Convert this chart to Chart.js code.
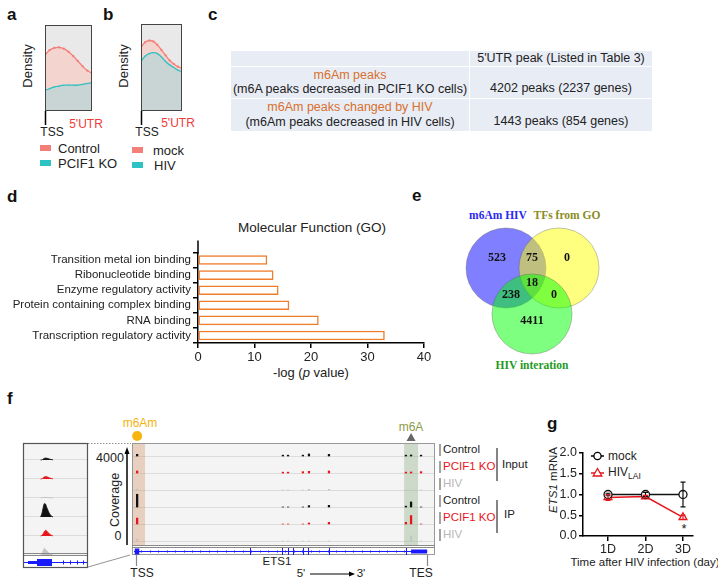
<!DOCTYPE html>
<html>
<head>
<meta charset="utf-8">
<script src="https://cdn.jsdelivr.net/npm/chart.js@4.4.1/dist/chart.umd.min.js"></script>
<style>
  body { margin: 0; width: 718px; height: 579px; position: relative; background: #fff; overflow: hidden;
         font-family: 'Liberation Sans', Arial, sans-serif; color: #222; }
  canvas { position: absolute; }
  .t { position: absolute; white-space: nowrap; line-height: 1; }
  .c { transform: translate(-50%, -50%); }
  .l { transform: translate(0, -50%); }
  .pl { position: absolute; font-weight: bold; font-size: 17px; color: #111; line-height: 1; }
  .rot { transform: translate(-50%, -50%) rotate(-90deg); }
  table.pk { position: absolute; left: 230px; top: 50px; width: 423px; border-collapse: collapse; font-size: 12.5px; }
  table.pk td { background: #e8ecf5; border: 1.5px solid #fff; text-align: center; padding: 0; line-height: 14.5px; }
  .venn { font-family: 'Liberation Serif', 'DejaVu Serif', serif; font-weight: bold; font-size: 11.5px; }
  svg { position: absolute; left: 0; top: 0; }
</style>
</head>
<body>

<!-- panel letters -->
<div class="pl" style="left:7px;top:6px">a</div>
<div class="pl" style="left:103px;top:6px">b</div>
<div class="pl" style="left:208px;top:6px">c</div>
<div class="pl" style="left:7px;top:188px">d</div>
<div class="pl" style="left:412px;top:187px">e</div>
<div class="pl" style="left:7px;top:390px">f</div>
<div class="pl" style="left:547px;top:415px">g</div>

<!-- a / b text -->
<div class="t rot" style="left:27px;top:66px;font-size:13px">Density</div>
<div class="t rot" style="left:123px;top:66px;font-size:13px">Density</div>
<div class="t c" style="left:52px;top:132px;font-size:12px">TSS</div>
<div class="t c" style="left:86px;top:124px;font-size:12px;color:#f03a3a">5'UTR</div>
<div class="t c" style="left:147px;top:132px;font-size:12px">TSS</div>
<div class="t c" style="left:178px;top:123px;font-size:12px;color:#f03a3a">5'UTR</div>
<div style="position:absolute;left:40px;top:145px;width:11px;height:6px;background:#f47f78"></div>
<div class="t l" style="left:58px;top:148px;font-size:13px">Control</div>
<div style="position:absolute;left:40px;top:160px;width:11px;height:6px;background:#2ec2c5"></div>
<div class="t l" style="left:58px;top:163px;font-size:13px">PCIF1 KO</div>
<div style="position:absolute;left:132px;top:147px;width:11px;height:6px;background:#f47f78"></div>
<div class="t l" style="left:153px;top:150px;font-size:13px">mock</div>
<div style="position:absolute;left:132px;top:162px;width:11px;height:6px;background:#2ec2c5"></div>
<div class="t l" style="left:154px;top:165px;font-size:13px">HIV</div>

<!-- c table -->
<table class="pk">
  <tr style="height:15px"><td style="width:238px"></td><td>5'UTR peak (Listed in Table 3)</td></tr>
  <tr style="height:32px"><td><span style="color:#d8702e">m6Am peaks</span><br>(m6A peaks decreased in PCIF1 KO cells)</td>
      <td style="vertical-align:bottom;padding-bottom:2px">4202 peaks (2237 genes)</td></tr>
  <tr style="height:33px"><td><span style="color:#d8702e">m6Am peaks changed by HIV</span><br>(m6Am peaks decreased in HIV cells)</td>
      <td style="vertical-align:bottom;padding-bottom:2px">1443 peaks (854 genes)</td></tr>
</table>

<!-- d text -->
<div class="t c" style="left:312px;top:228px;font-size:13.5px">Molecular Function (GO)</div>
<div class="t c" style="left:311px;top:372px;font-size:13px">-log (<i>p</i> value)</div>

<!-- e text -->
<div class="t c venn" style="left:498px;top:216px;color:#2a2af2">m6Am HIV</div>
<div class="t c venn" style="left:567px;top:216px;color:#8c8c1e">TFs from GO</div>
<div class="t c venn" style="left:532px;top:366px;color:#1f9a1f">HIV interation</div>

<!-- f text -->
<div class="t c" style="left:140px;top:423px;font-size:12px;color:#f2b311">m6Am</div>
<div class="t c" style="left:411px;top:427px;font-size:12px;color:#8a9a46">m6A</div>
<div class="t c" style="left:110px;top:458px;font-size:12.5px">4000</div>
<div class="t c" style="left:118px;top:536px;font-size:12.5px">0</div>
<div class="t rot" style="left:115px;top:500px;font-size:12.5px">Coverage</div>
<div class="t l" style="left:443px;top:450px;font-size:11.5px">Control</div>
<div class="t l" style="left:443px;top:467px;font-size:11.5px;color:#e8141b">PCIF1 KO</div>
<div class="t l" style="left:443px;top:484px;font-size:11.5px;color:#b8b8b8">HIV</div>
<div class="t l" style="left:443px;top:501px;font-size:11.5px">Control</div>
<div class="t l" style="left:443px;top:518px;font-size:11.5px;color:#e8141b">PCIF1 KO</div>
<div class="t l" style="left:443px;top:535px;font-size:11.5px;color:#b8b8b8">HIV</div>
<div class="t l" style="left:502px;top:465px;font-size:11.5px">Input</div>
<div class="t l" style="left:504px;top:515px;font-size:11.5px">IP</div>
<div class="t c" style="left:142px;top:573px;font-size:12px">TSS</div>
<div class="t c" style="left:277px;top:562px;font-size:11.5px">ETS1</div>
<div class="t c" style="left:301px;top:574px;font-size:11.5px">5'</div>
<div class="t c" style="left:361px;top:574px;font-size:11.5px">3'</div>
<div class="t c" style="left:421px;top:573px;font-size:12px">TES</div>

<!-- g text -->
<div class="t rot" style="left:554px;top:480px;font-size:11.5px"><i>ETS1</i> mRNA</div>
<div class="t l" style="left:608px;top:456px;font-size:12px">mock</div>
<div class="t l" style="left:608px;top:473px;font-size:12px">HIV<sub style="font-size:8.5px">LAI</sub></div>
<div class="t c" style="left:684px;top:528px;font-size:13px">*</div>
<div class="t c" style="left:645px;top:563px;font-size:11.5px">Time after HIV infection (day)</div>

<svg width="718" height="579">
  <!-- coverage arrow -->
  <line x1="127" y1="545" x2="127" y2="453" stroke="#000" stroke-width="1.5"/>
  <polygon points="127,447 124.5,454 129.5,454" fill="#000"/>
  <!-- inset connectors -->
  <line x1="88" y1="443.5" x2="131" y2="443.5" stroke="#777" stroke-width="0.8" stroke-dasharray="1.5,1.5"/>
  <line x1="88" y1="567" x2="130" y2="555" stroke="#777" stroke-width="0.8"/>
  <!-- TSS / TES lines -->
  <line x1="136.5" y1="554" x2="136.5" y2="566" stroke="#888" stroke-width="1.2"/>
  <line x1="427.5" y1="554" x2="427.5" y2="566" stroke="#888" stroke-width="1.2"/>
  <!-- 5' -> 3' -->
  <line x1="310" y1="574" x2="350" y2="574" stroke="#000" stroke-width="1"/>
  <polygon points="355,574 349,571.5 349,576.5" fill="#000"/>
  <!-- label bars -->
  <g stroke="#666" stroke-width="1.2">
    <line x1="440" y1="444" x2="440" y2="456"/>
    <line x1="440" y1="461" x2="440" y2="473"/>
    <line x1="440" y1="478" x2="440" y2="490"/>
    <line x1="440" y1="495" x2="440" y2="507"/>
    <line x1="440" y1="512" x2="440" y2="524"/>
    <line x1="440" y1="529" x2="440" y2="541"/>
  </g>
  <g stroke="#333" stroke-width="1.2">
    <line x1="497" y1="448" x2="497" y2="481"/>
    <line x1="497" y1="500" x2="497" y2="533"/>
  </g>
  <!-- g legend icons -->
  <line x1="591" y1="456" x2="604" y2="456" stroke="#000" stroke-width="1.5"/>
  <circle cx="597.5" cy="456" r="3.6" fill="#fff" stroke="#000" stroke-width="1.3"/>
  <line x1="591" y1="473" x2="604" y2="473" stroke="#e8141b" stroke-width="1.5"/>
  <polygon points="597.5,468.5 601.8,476 593.2,476" fill="#fff" stroke="#e8141b" stroke-width="1.3"/>
</svg>

<script>
// ---------- data ----------
// a, b: metagene density along 5'UTR (TSS -> end)
const densPos = [0, 1, 2, 3, 4, 5, 6, 7, 8, 9, 10];
const controlDens = [0.65, 0.71, 0.735, 0.74, 0.725, 0.69, 0.64, 0.58, 0.52, 0.47, 0.44];
const pcif1Dens = [0.24, 0.26, 0.28, 0.29, 0.30, 0.30, 0.30, 0.30, 0.31, 0.32, 0.33];
const mockDens = [0.73, 0.79, 0.81, 0.80, 0.76, 0.70, 0.64, 0.58, 0.54, 0.51, 0.49];
const hivDens = [0.57, 0.63, 0.66, 0.67, 0.66, 0.62, 0.57, 0.53, 0.50, 0.47, 0.45];

// d: GO molecular function
const goTerms = ['Transition metal ion binding', 'Ribonucleotide binding', 'Enzyme regulatory activity',
                 'Protein containing complex binding', 'RNA binding', 'Transcription regulatory activity'];
const goScore = [12.2, 13.3, 14.2, 16.1, 21.3, 33.0];
const goTicks = [0, 10, 20, 30, 40];

// e: venn counts (523 only m6Am, 75 m6Am+TF, 0 TF only, 18 all, 238 m6Am+HIV, 0 TF+HIV, 4411 HIV only)
const vennSets = ['m6Am HIV', 'TFs from GO', 'HIV interation'];
const vennCounts = [523, 75, 0, 18, 238, 0, 4411];

// f: coverage tracks for ETS1
const trackNames = ['Control', 'PCIF1 KO', 'HIV', 'Control', 'PCIF1 KO', 'HIV'];
const peakSites = [1.7, 49.8, 51.5, 56.4, 58.4, 65.0, 90.4, 92.1, 95.4];
const peakCov = [
  [0.10, 0.05, 0.05, 0.05, 0.12, 0.10, 0.05, 0.06, 0.05],
  [0.12, 0.05, 0.05, 0.08, 0.10, 0.12, 0.05, 0.06, 0.08],
  [0.05, 0.00, 0.00, 0.00, 0.04, 0.04, 0.00, 0.00, 0.00],
  [0.75, 0.00, 0.00, 0.00, 0.08, 0.10, 0.05, 0.30, 0.00],
  [0.35, 0.00, 0.00, 0.00, 0.06, 0.10, 0.10, 0.50, 0.00],
  [0.12, 0.00, 0.00, 0.00, 0.00, 0.00, 0.00, 0.30, 0.00]
];
const geneExons = [38.9, 49.5, 51.5, 53.1, 56.4, 58.1, 65.0, 90.4];
const tssBand = [0, 4.3];
const m6aBand = [89.8, 94.4];
// inset: zoom on TSS
const insetBins = [14, 15, 16, 17, 18, 19, 20, 21, 22, 23, 24];
const insetCov = [
  [0, 0, 0.04, 0.08, 0.10, 0.09, 0.07, 0.05, 0.03, 0.02, 0],
  [0, 0, 0.05, 0.10, 0.13, 0.12, 0.09, 0.06, 0.04, 0.02, 0],
  [0, 0, 0.02, 0.03, 0.03, 0.03, 0.02, 0.01, 0, 0, 0],
  [0, 0.15, 0.45, 0.70, 0.68, 0.50, 0.35, 0.20, 0.10, 0.03, 0],
  [0, 0.02, 0.10, 0.22, 0.30, 0.26, 0.18, 0.12, 0.07, 0.03, 0],
  [0, 0.05, 0.20, 0.35, 0.30, 0.22, 0.15, 0.08, 0.04, 0.02, 0]
];

// g: ETS1 mRNA
const days = ['1D', '2D', '3D'];
const mockVal = [1.0, 1.0, 1.0];
const mockErr = [0.03, 0.05, 0.30];
const hivVal = [0.93, 0.95, 0.45];
const hivErr = [0.07, 0.03, 0.05];

// ---------- setup ----------
Chart.defaults.font.family = "'Liberation Sans', Arial, sans-serif";
Chart.defaults.color = '#222';
Chart.defaults.animation = false;
Chart.defaults.plugins.legend.display = false;
Chart.defaults.plugins.tooltip.enabled = false;

function canvasAt(left, top, w, h) {
  const c = document.createElement('canvas');
  c.width = w; c.height = h;
  c.style.left = left + 'px'; c.style.top = top + 'px';
  document.body.appendChild(c);
  return c;
}

const trackColors = ['#111', '#e8141b', '#c4c4c4', '#111', '#e8141b', '#c4c4c4'];

// ---------- a, b ----------
const densFrame = {
  id: 'densFrame',
  beforeDraw(c) {
    const a = c.chartArea, x = c.ctx;
    x.fillStyle = '#e9e9e9';
    x.fillRect(a.left, a.top, a.width, a.height);
  },
  afterDraw(c) {
    const a = c.chartArea, x = c.ctx;
    x.save();
    x.strokeStyle = '#444'; x.lineWidth = 1;
    x.strokeRect(a.left + 0.5, a.top + 0.5, a.width - 1, a.height - 1);
    x.strokeStyle = '#000'; x.lineWidth = 1.5;
    x.beginPath(); x.moveTo(a.left + 0.5, a.bottom); x.lineTo(a.left + 0.5, a.bottom + 14); x.stroke();
    x.restore();
  }
};

function densityChart(cv, pad, upper, lower) {
  return new Chart(cv, {
    type: 'line',
    data: {
      labels: densPos,
      datasets: [
        { data: lower.map((v, i) => ({ x: densPos[i], y: v })), borderColor: '#33c1c2', borderWidth: 1.3,
          backgroundColor: '#c8d5d4', fill: 'origin', tension: 0.4, pointRadius: 0.8, pointStyle: 'rect',
          pointBackgroundColor: '#33c1c2', pointBorderWidth: 0 },
        { data: upper.map((v, i) => ({ x: densPos[i], y: v })), borderColor: '#f47f78', borderWidth: 1.3,
          backgroundColor: '#f3d4cf', fill: 'origin', tension: 0.4, pointRadius: 1.4, pointStyle: 'rect',
          pointBackgroundColor: '#f47f78', pointBorderWidth: 0 }
      ]
    },
    options: {
      responsive: false, devicePixelRatio: 1,
      layout: { padding: pad },
      scales: {
        x: { type: 'linear', display: false, min: 0, max: 10 },
        y: { display: false, min: 0, max: 1 }
      }
    },
    plugins: [densFrame]
  });
}
densityChart(canvasAt(40, 20, 60, 112), { left: 5, top: 5, right: 8, bottom: 21 }, controlDens, pcif1Dens);
densityChart(canvasAt(136, 19, 60, 112), { left: 5, top: 5, right: 14, bottom: 20 }, mockDens, hivDens);

// ---------- d ----------
const goAxisTop = {
  id: 'goAxisTop',
  afterDraw(c) {
    const a = c.chartArea, x = c.ctx;
    x.save(); x.strokeStyle = '#000'; x.lineWidth = 1.5;
    x.beginPath(); x.moveTo(a.left, a.top - 12); x.lineTo(a.left, a.top + 1); x.stroke();
    x.restore();
  }
};
new Chart(canvasAt(0, 215, 435, 156), {
  type: 'bar',
  data: {
    labels: goTerms,
    datasets: [{ data: goScore, backgroundColor: '#fff', borderColor: '#ef7d2e', borderWidth: 1.5,
                 borderSkipped: false, barThickness: 9 }]
  },
  options: {
    indexAxis: 'y', responsive: false, devicePixelRatio: 1,
    layout: { padding: { top: 37.5, right: 11, left: 0, bottom: 0 } },
    scales: {
      y: {
        afterFit(s) { s.width = 198; },
        grid: { drawOnChartArea: false, tickLength: 5, color: '#000', lineWidth: 1.5 },
        border: { color: '#000', width: 1.5 },
        ticks: { font: { size: 11.5 }, color: '#222', padding: 2, autoSkip: false }
      },
      x: {
        min: 0, max: 40,
        afterFit(s) { s.height = 28; },
        afterBuildTicks(s) { s.ticks = goTicks.map(v => ({ value: v })); },
        grid: { drawOnChartArea: false, tickLength: 5, color: '#000', lineWidth: 1.5 },
        border: { color: '#000', width: 1.5 },
        ticks: { font: { size: 13 }, color: '#222', padding: 2 }
      }
    }
  },
  plugins: [goAxisTop]
});

// ---------- e ----------
const vennCentres = [{ x: 0, y: 0 }, { x: 1.325, y: 0 }, { x: 0.65, y: -1.15 }];
const vennFills = ['rgba(0,0,255,0.5)', 'rgba(255,255,0,0.5)', 'rgba(0,255,0,0.5)'];
const vennCountPos = [[-0.225, 0.25], [0.65, 0.25], [1.525, 0.25], [0.65, -0.375],
                      [0.125, -0.675], [1.2, -0.675], [0.65, -1.325]];
const unitRadius = ctx => ctx.chart.scales.x.getPixelForValue(1) - ctx.chart.scales.x.getPixelForValue(0);
const vennText = {
  id: 'vennText',
  afterDatasetsDraw(c) {
    const x = c.ctx, sx = c.scales.x, sy = c.scales.y;
    x.save();
    x.font = "bold 12px 'Liberation Serif', 'DejaVu Serif', serif";
    x.fillStyle = '#111'; x.textAlign = 'center'; x.textBaseline = 'middle';
    vennCounts.forEach((n, i) => {
      x.fillText(String(n), sx.getPixelForValue(vennCountPos[i][0]), sy.getPixelForValue(vennCountPos[i][1]));
    });
    x.restore();
  }
};
new Chart(canvasAt(460, 225, 150, 135), {
  type: 'scatter',
  data: {
    datasets: vennSets.map((name, i) => ({
      label: name, data: [vennCentres[i]], order: 3 - i,
      backgroundColor: vennFills[i], borderColor: 'rgba(90,90,90,0.45)', borderWidth: 0.8,
      pointRadius: unitRadius
    }))
  },
  options: {
    responsive: false, devicePixelRatio: 1,
    layout: { padding: 0 },
    scales: {
      x: { type: 'linear', display: false, min: -1.15, max: 2.6 },
      y: { type: 'linear', display: false, min: -2.3, max: 1.075 }
    }
  },
  plugins: [vennText]
});

// ---------- f (main tracks) ----------
function drawBand(c, band, color) {
  const a = c.chartArea, sx = c.scales.x, x = c.ctx;
  const l = sx.getPixelForValue(band[0]), r = sx.getPixelForValue(band[1]);
  x.fillStyle = color;
  x.fillRect(l, a.top, r - l, a.height);
}
const trackDeco = {
  id: 'trackDeco',
  beforeDraw(c) {
    const a = c.chartArea, x = c.ctx;
    x.fillStyle = '#f4f4f4';
    x.fillRect(a.left, a.top, a.width, a.height);
  },
  beforeDatasetsDraw(c) {
    drawBand(c, tssBand, 'rgba(214,150,110,0.38)');
    drawBand(c, m6aBand, 'rgba(150,180,140,0.42)');
  },
  afterDraw(c) {
    const a = c.chartArea, sx = c.scales.x, x = c.ctx;
    x.save();
    // frame
    x.strokeStyle = '#999'; x.lineWidth = 1;
    x.strokeRect(a.left + 0.5, a.top + 0.5, a.width - 1, a.height + 9);
    x.strokeStyle = '#888';
    x.beginPath(); x.moveTo(a.left, a.bottom + 0.5); x.lineTo(a.right, a.bottom + 0.5);
    x.moveTo(a.left, a.bottom + 2.5); x.lineTo(a.right, a.bottom + 2.5); x.stroke();
    // gene model
    const gy = a.bottom + 6.5;
    x.strokeStyle = '#1a1aff'; x.fillStyle = '#1a1aff'; x.lineWidth = 1;
    x.beginPath(); x.moveTo(a.left + 2, gy); x.lineTo(sx.getPixelForValue(97.4), gy); x.stroke();
    for (let p = 3; p < 90; p += 2.8) {
      const px = Math.round(sx.getPixelForValue(p)) + 0.5;
      x.beginPath(); x.moveTo(px, gy - 1); x.lineTo(px, gy + 1); x.stroke();
    }
    geneExons.forEach(e => {
      const px = Math.round(sx.getPixelForValue(e)) + 0.5;
      x.beginPath(); x.moveTo(px, gy - 3.5); x.lineTo(px, gy + 3.5); x.stroke();
    });
    const u0 = sx.getPixelForValue(92.1), u1 = sx.getPixelForValue(97.4);
    x.fillRect(u0, gy - 2, u1 - u0, 4);
    const t0 = sx.getPixelForValue(0.9), t1 = sx.getPixelForValue(2.4);
    x.fillRect(t0, gy - 3, t1 - t0, 6);
    // m6Am dot & m6A triangle
    x.fillStyle = '#f6b60d';
    x.beginPath(); x.arc(sx.getPixelForValue(peakSites[0]), a.top - 7, 5, 0, Math.PI * 2); x.fill();
    const tx = sx.getPixelForValue(peakSites[7]);
    x.fillStyle = '#666';
    x.beginPath(); x.moveTo(tx, a.top - 10); x.lineTo(tx + 4.5, a.top - 2); x.lineTo(tx - 4.5, a.top - 2);
    x.closePath(); x.fill();
    x.restore();
  }
};
new Chart(canvasAt(128, 415, 312, 150), {
  type: 'bar',
  data: {
    datasets: trackNames.map((name, i) => ({
      label: name,
      data: peakSites.map((s, j) => ({ x: s, y: [5 - i, 5 - i + peakCov[i][j]] })),
      backgroundColor: trackColors[i], barThickness: 1.6, grouped: false
    }))
  },
  options: {
    responsive: false, devicePixelRatio: 1,
    layout: { padding: { left: 4, right: 5, top: 28, bottom: 20 } },
    scales: {
      x: { type: 'linear', display: false, min: 0, max: 100, offset: false },
      y: {
        min: -0.235, max: 5.765,
        afterFit(s) { s.width = 0; },
        afterBuildTicks(s) { s.ticks = [0, 1, 2, 3, 4, 5].map(v => ({ value: v })); },
        ticks: { display: false },
        border: { display: false },
        grid: { color: '#d6d6d6', lineWidth: 0.8, drawTicks: false }
      }
    }
  },
  plugins: [trackDeco]
});

// ---------- f (TSS inset) ----------
const insetDeco = {
  id: 'insetDeco',
  beforeDraw(c) {
    const a = c.chartArea, x = c.ctx;
    x.fillStyle = '#f4f4f4';
    x.fillRect(a.left, a.top, a.width, a.height);
  },
  afterDraw(c) {
    const a = c.chartArea, sx = c.scales.x, x = c.ctx;
    x.save();
    x.strokeStyle = '#888'; x.lineWidth = 1;
    x.beginPath(); x.moveTo(a.left, a.bottom - 1.5); x.lineTo(a.right, a.bottom - 1.5);
    x.moveTo(a.left, a.bottom + 0.5); x.lineTo(a.right, a.bottom + 0.5); x.stroke();
    const gy = a.bottom + 7.5;
    x.strokeStyle = '#1a1aff'; x.fillStyle = '#1a1aff';
    x.beginPath(); x.moveTo(a.left + 1, gy); x.lineTo(a.right - 1, gy); x.stroke();
    const b0 = sx.getPixelForValue(4), b1 = sx.getPixelForValue(11.2), b2 = sx.getPixelForValue(23.2);
    x.fillRect(b0, gy - 1.5, b1 - b0, 3);
    x.fillRect(b1, gy - 3.5, b2 - b1, 7);
    [32, 37.6, 43.2, 48].forEach(p => {
      const px = Math.round(sx.getPixelForValue(p)) + 0.5;
      x.beginPath(); x.moveTo(px, gy - 2); x.lineTo(px, gy + 2); x.stroke();
    });
    x.strokeStyle = '#555'; x.lineWidth = 1.2;
    x.strokeRect(a.left + 0.5, a.top + 0.5, a.width - 1, a.height + 12);
    x.restore();
  }
};
new Chart(canvasAt(18, 438, 75, 135), {
  type: 'line',
  data: {
    datasets: trackNames.map((name, i) => ({
      label: name,
      data: insetBins.map((b, j) => ({ x: b, y: 5 - i + insetCov[i][j] })),
      borderColor: trackColors[i], backgroundColor: trackColors[i], borderWidth: 0.8,
      pointRadius: 0, tension: 0.3, fill: { value: 5 - i }
    }))
  },
  options: {
    responsive: false, devicePixelRatio: 1,
    layout: { padding: { left: 5, right: 5, top: 5, bottom: 18 } },
    scales: {
      x: { type: 'linear', display: false, min: 0, max: 52 },
      y: {
        min: 0, max: 5.89,
        afterFit(s) { s.width = 0; },
        afterBuildTicks(s) { s.ticks = [1, 2, 3, 4, 5].map(v => ({ value: v })); },
        ticks: { display: false },
        border: { display: false },
        grid: { color: '#d6d6d6', lineWidth: 0.8, drawTicks: false }
      }
    }
  },
  plugins: [insetDeco]
});

// ---------- g ----------
const errorBars = {
  id: 'errorBars',
  afterDatasetsDraw(c) {
    const x = c.ctx, sx = c.scales.x, sy = c.scales.y;
    const errs = [mockErr, hivErr];
    x.save();
    c.data.datasets.forEach((ds, k) => {
      x.strokeStyle = ds.borderColor; x.lineWidth = 1.2;
      ds.data.forEach((p, i) => {
        const px = sx.getPixelForValue(p.x);
        const hi = sy.getPixelForValue(p.y + errs[k][i]), lo = sy.getPixelForValue(p.y - errs[k][i]);
        x.beginPath();
        x.moveTo(px, hi); x.lineTo(px, lo);
        x.moveTo(px - 2.5, hi); x.lineTo(px + 2.5, hi);
        x.moveTo(px - 2.5, lo); x.lineTo(px + 2.5, lo);
        x.stroke();
      });
    });
    x.restore();
  }
};
new Chart(canvasAt(545, 440, 165, 115), {
  type: 'line',
  data: {
    datasets: [
      { label: 'mock', data: mockVal.map((v, i) => ({ x: i + 1, y: v })), borderColor: '#111', borderWidth: 1.5,
        pointStyle: 'circle', pointRadius: 4, pointBackgroundColor: '#fff', pointBorderColor: '#111',
        pointBorderWidth: 1.3, order: 1 },
      { label: 'HIV LAI', data: hivVal.map((v, i) => ({ x: i + 1, y: v })), borderColor: '#e8141b', borderWidth: 1.5,
        pointStyle: 'triangle', pointRadius: 4.5, pointBackgroundColor: '#fff', pointBorderColor: '#e8141b',
        pointBorderWidth: 1.3, order: 2 }
    ]
  },
  options: {
    responsive: false, devicePixelRatio: 1,
    layout: { padding: { top: 13, right: 17, left: 0, bottom: 0 } },
    scales: {
      x: {
        type: 'linear', min: 0.333, max: 3.267,
        afterFit(s) { s.height = 19; },
        afterBuildTicks(s) { s.ticks = days.map((d, i) => ({ value: i + 1 })); },
        grid: { drawOnChartArea: false, tickLength: 5, color: '#000', lineWidth: 1.5 },
        border: { color: '#000', width: 1.5 },
        ticks: { font: { size: 12.5 }, color: '#222', padding: 1, callback: v => days[v - 1] }
      },
      y: {
        min: 0, max: 2,
        afterFit(s) { s.width = 38; },
        ticks: { stepSize: 0.5, font: { size: 12.5 }, color: '#222', padding: 2, callback: v => v.toFixed(1) },
        grid: { drawOnChartArea: false, tickLength: 4, color: '#000', lineWidth: 1.5 },
        border: { color: '#000', width: 1.5 }
      }
    }
  },
  plugins: [errorBars]
});
</script>
</body>
</html>
